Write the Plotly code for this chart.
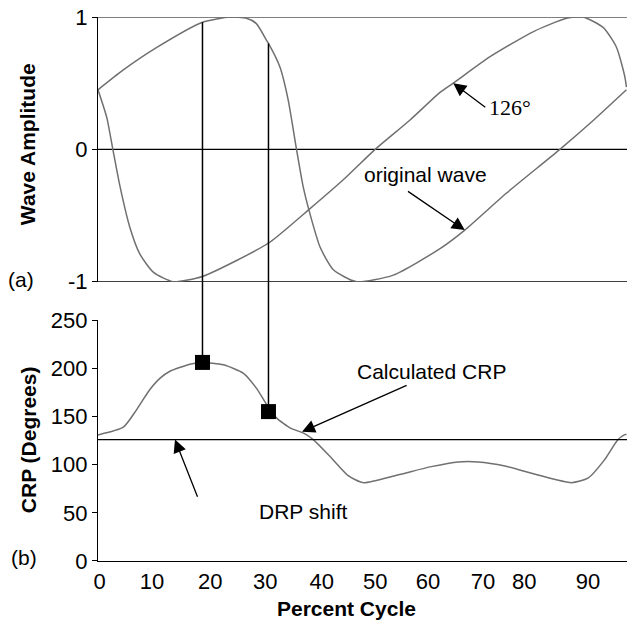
import plotly.graph_objects as go

# ---------------- data ----------------
# x positions are in "cycle position" units of the (unevenly labelled) axis
orig_x = [0, 4.6, 10.7, 19.0, 24.0, 27.0, 28.8, 30.7, 31.0, 33.1, 34.6, 36.1, 37.3, 38.5,
          40.4, 42.8, 47.0, 53.7, 62.2, 66.7, 74.3, 84.0, 90.1, 96.1]
orig_y = [0.45, 0.60, 0.77, 0.96, 1.0, 0.99, 0.95, 0.82, 0.80, 0.62, 0.37, 0.0, -0.28, -0.48,
          -0.74, -0.91, -1.0, -0.95, -0.75, -0.61, -0.33, 0.0, 0.22, 0.45]

shift_x = [0, 1.6, 2.7, 4.0, 5.8, 7.6, 10.1, 13.7, 19.0, 25.2, 31.3, 38.5, 44.6, 50.4,
           56.7, 62.2, 64.6, 71.3, 79.2, 85.2, 88.2, 91.9, 94.3, 95.8, 96.1]
shift_y = [0.45, 0.24, 0.0, -0.28, -0.59, -0.79, -0.93, -1.0, -0.96, -0.84, -0.70, -0.45, -0.23, 0.0,
           0.22, 0.43, 0.50, 0.70, 0.89, 0.99, 1.0, 0.92, 0.77, 0.55, 0.47]

crp_x = [0, 4.6, 7.0, 9.4, 11.3, 13.0, 16.7, 19.0, 22.8, 26.4, 28.8, 30.7, 32.5, 35.0, 37.4,
         39.2, 42.2, 45.5, 48.2, 54.5, 60.6, 65.5, 69.1, 74.0, 80.0, 86.1, 89.1, 92.1, 94.5, 95.7, 96.1]
crp_y = [130.8, 138.8, 156.8, 177.6, 189.7, 196.6, 204.2, 206, 203.5, 194.9, 179.3, 162, 148.2, 137.8, 132.6,
         125.6, 108.3, 88.5, 81.3, 89.3, 97.9, 102.8, 102.8, 98.6, 89.3, 81.3, 85.9, 104.9, 125.6, 130.8, 131.5]

drp_shift = 126

marker_x = [19.0, 31.0]
marker_crp = [206, 155]
marker_wave = [0.96, 0.80]

x_tick_pos = [0.3, 9.8, 20.4, 30.4, 40.7, 50.4, 60.0, 70.0, 77.5, 89.1]
x_tick_text = ["0", "10", "20", "30", "40", "50", "60", "70", "80", "90"]
wave_ticks = [-1, 0, 1]
wave_tick_text = ["-1", "0", "1"]
crp_ticks = [0, 50, 100, 150, 200, 250]

x_range = [0, 96.2]
top_dom = [0.5134, 1.0]
bot_dom = [0.0, 0.443]

FONT = "Liberation Sans, Arial, sans-serif"
CURVE = "#707070"
TICK_SIZE = 22
TEXT_SIZE = 21

fig = go.Figure()

fig.add_trace(go.Scatter(x=orig_x, y=orig_y, mode="lines", xaxis="x", yaxis="y",
                         line=dict(color=CURVE, width=1.5, shape="spline", smoothing=0.6),
                         hoverinfo="skip"))
fig.add_trace(go.Scatter(x=shift_x, y=shift_y, mode="lines", xaxis="x", yaxis="y",
                         line=dict(color=CURVE, width=1.5, shape="spline", smoothing=0.6),
                         hoverinfo="skip"))
fig.add_trace(go.Scatter(x=crp_x, y=crp_y, mode="lines", xaxis="x2", yaxis="y2",
                         line=dict(color=CURVE, width=1.5, shape="spline", smoothing=0.6),
                         hoverinfo="skip"))

# horizontal reference lines of the wave panel
for wv in wave_ticks:
    fig.add_shape(type="line", xref="x domain", yref="y", x0=0, x1=1, y0=wv, y1=wv,
                  line=dict(color="black", width=1.2), layer="below")

# connector lines from the wave down to the CRP markers
for mx, mw, mc in zip(marker_x, marker_wave, marker_crp):
    fig.add_trace(go.Scatter(x=[mx, mx], y=[mw, wave_ticks[0]], mode="lines", xaxis="x", yaxis="y",
                             line=dict(color="black", width=1.5), hoverinfo="skip"))
    fig.add_trace(go.Scatter(x=[mx, mx], y=[mc, crp_ticks[-1]], mode="lines", xaxis="x2", yaxis="y2",
                             line=dict(color="black", width=1.5), hoverinfo="skip"))
    fig.add_shape(type="line", xref="x2", yref="paper", x0=mx, x1=mx,
                  y0=bot_dom[1], y1=top_dom[0], line=dict(color="black", width=1.5))

fig.add_trace(go.Scatter(x=marker_x, y=marker_crp, mode="markers", xaxis="x2", yaxis="y2",
                         marker=dict(symbol="square", size=15, color="black"),
                         hoverinfo="skip"))

# DRP shift line
fig.add_shape(type="line", xref="x2 domain", yref="y2", x0=0, x1=1, y0=drp_shift, y1=drp_shift,
              line=dict(color="black", width=1.2))

fig.update_layout(
    width=631, height=621,
    margin=dict(l=98, r=4, t=17, b=60),
    plot_bgcolor="white", paper_bgcolor="white",
    showlegend=False,
    font=dict(family=FONT, size=TEXT_SIZE, color="black"),
    xaxis=dict(domain=[0, 1], anchor="y", range=x_range, visible=False, fixedrange=True),
    yaxis=dict(domain=top_dom, anchor="x", range=[-1, 1], tickvals=wave_ticks, ticktext=wave_tick_text,
               showgrid=False, zeroline=False,
               showline=True, linecolor="black", linewidth=1.2, automargin=False,
               ticks="outside", ticklen=5, tickcolor="black",
               tickfont=dict(size=TICK_SIZE)),
    xaxis2=dict(domain=[0, 1], anchor="y2", range=x_range, tickvals=x_tick_pos, ticktext=x_tick_text,
                showgrid=False, zeroline=False, showline=True, linecolor="black", linewidth=1.2,
                automargin=False, ticks="", tickfont=dict(size=TICK_SIZE)),
    yaxis2=dict(domain=bot_dom, anchor="x2", range=[0, 250], tickvals=crp_ticks,
                showgrid=False, zeroline=False, showline=True, linecolor="black", linewidth=1.2,
                automargin=False, ticks="outside", ticklen=5, tickcolor="black",
                tickfont=dict(size=TICK_SIZE)),
)

ann = []
# axis titles and panel labels
ann.append(dict(text="<b>Wave Amplitude</b>", xref="paper", yref="paper", x=-0.134, y=0.7665,
                xanchor="center", yanchor="middle", textangle=-90, showarrow=False))
ann.append(dict(text="<b>CRP (Degrees)</b>", xref="paper", yref="paper", x=-0.132, y=0.2224,
                xanchor="center", yanchor="middle", textangle=-90, showarrow=False))
ann.append(dict(text="<b>Percent Cycle</b>", xref="x2", yref="paper", x=45.2, y=-0.087,
                xanchor="center", yanchor="middle", showarrow=False))
ann.append(dict(text="(a)", xref="paper", yref="paper", x=-0.1456, y=0.518,
                xanchor="center", yanchor="middle", showarrow=False))
ann.append(dict(text="(b)", xref="paper", yref="paper", x=-0.14, y=0.007,
                xanchor="center", yanchor="middle", showarrow=False))

ARROW = dict(showarrow=True, arrowhead=2, arrowsize=2.0, arrowwidth=1.3, arrowcolor="black")

# top-panel callouts
ann.append(dict(text="", x=64.6, y=0.50, xref="x", yref="y", ax=70.7, ay=0.31, axref="x", ayref="y", **ARROW))
ann.append(dict(text="126°", x=70.7, y=0.32, xref="x", yref="y", xanchor="left", yanchor="middle",
                showarrow=False, font=dict(family="Liberation Serif, Times New Roman, serif", size=22)))
ann.append(dict(text="", x=66.7, y=-0.61, xref="x", yref="y", ax=56.1, ay=-0.31, axref="x", ayref="y", **ARROW))
ann.append(dict(text="original wave", x=59.6, y=-0.19, xref="x", yref="y",
                xanchor="center", yanchor="middle", showarrow=False))

# bottom-panel callouts
ann.append(dict(text="", x=37.1, y=134, xref="x2", yref="y2", ax=56.4, ay=182.8, axref="x2", ayref="y2", **ARROW))
ann.append(dict(text="Calculated CRP", x=60.7, y=197, xref="x2", yref="y2",
                xanchor="center", yanchor="middle", showarrow=False))
ann.append(dict(text="", x=14.0, y=126, xref="x2", yref="y2", ax=18.2, ay=65, axref="x2", ayref="y2", **ARROW))
ann.append(dict(text="DRP shift", x=37.3, y=51, xref="x2", yref="y2",
                xanchor="center", yanchor="middle", showarrow=False))

fig.update_layout(annotations=ann)

fig.write_html("out.html", config={"displayModeBar": False},
               post_script="document.body.style.margin='0px';")
